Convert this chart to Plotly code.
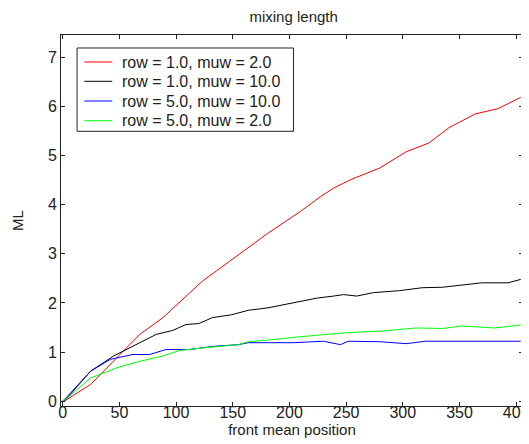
import plotly.graph_objects as go

# ---- data ----
red_x = [0, 1.5, 24.6, 50.7, 68, 88.4, 100, 123, 152, 181, 210, 227.6, 239, 253.7, 279.7, 302.9, 323, 340.6, 363.7, 384, 404]
red_y = [0, 0.0, 0.34, 0.95, 1.36, 1.70, 1.95, 2.44, 2.93, 3.42, 3.87, 4.17, 4.34, 4.51, 4.75, 5.08, 5.26, 5.57, 5.85, 5.96, 6.19]

black_x = [0, 1.5, 24.6, 45, 68, 82.6, 97, 108.7, 120, 132, 149, 163.7, 181, 204, 224.6, 239, 247.8, 259.4, 274, 297, 317, 335, 352, 369.6, 392.8, 404]
black_y = [0, 0.0, 0.61, 0.92, 1.19, 1.36, 1.44, 1.56, 1.58, 1.70, 1.76, 1.85, 1.90, 2.00, 2.10, 2.14, 2.17, 2.14, 2.21, 2.25, 2.31, 2.32, 2.37, 2.41, 2.41, 2.48]

blue_x = [0, 4.3, 24.6, 42, 62, 76.8, 91, 111.6, 134.8, 155, 163.7, 204, 230, 245, 252, 279.7, 302.9, 320, 404]
blue_y = [0, 0.10, 0.61, 0.85, 0.95, 0.95, 1.05, 1.05, 1.12, 1.15, 1.19, 1.19, 1.22, 1.15, 1.22, 1.21, 1.17, 1.22, 1.22]

green_x = [0, 4.3, 24.6, 47.8, 68, 88.4, 102.9, 126, 155, 163.7, 184, 204, 247.8, 282.6, 311.6, 335, 352, 369.6, 381, 404]
green_y = [0, 0.07, 0.47, 0.68, 0.81, 0.92, 1.03, 1.09, 1.15, 1.21, 1.25, 1.30, 1.39, 1.43, 1.49, 1.48, 1.53, 1.51, 1.49, 1.55]

series_names = ["row = 1.0, muw = 2.0", "row = 1.0, muw = 10.0",
                "row = 5.0, muw = 10.0", "row = 5.0, muw = 2.0"]
series_colors = ["#ff0000", "#000000", "#0000ff", "#00ff00"]
x_ticks = [0, 50, 100, 150, 200, 250, 300, 350, 400]
y_ticks = [0, 1, 2, 3, 4, 5, 6, 7]

FONT = "Liberation Sans, Arial, sans-serif"
TXT = "#222"

fig = go.Figure()
for xs, ys, name, color in zip([red_x, black_x, blue_x, green_x],
                               [red_y, black_y, blue_y, green_y],
                               series_names, series_colors):
    fig.add_trace(go.Scatter(x=xs, y=ys, mode="lines", name=name,
                             line=dict(color=color, width=1), showlegend=False))

# MATLAB-style legend box drawn in paper coordinates
leg_x0, leg_x1, leg_top, leg_bot = 0.0348, 0.5032, 0.965, 0.7404
row_y = [0.9272, 0.8752, 0.8221, 0.769]
fig.add_shape(type="rect", xref="paper", yref="paper",
              x0=leg_x0, x1=leg_x1, y0=leg_bot, y1=leg_top,
              fillcolor="white", line=dict(color=TXT, width=1), layer="above")
for name, color, ry in zip(series_names, series_colors, row_y):
    fig.add_shape(type="line", xref="paper", yref="paper",
                  x0=0.0505, x1=0.1109, y0=ry, y1=ry,
                  line=dict(color=color, width=1), layer="above")
    fig.add_annotation(text=name, xref="paper", yref="paper", x=0.1286, y=ry,
                       xanchor="left", yanchor="middle", showarrow=False,
                       font=dict(family=FONT, size=16, color=TXT))

axis_common = dict(
    showgrid=False, zeroline=False,
    showline=True, linecolor=TXT, linewidth=1, mirror="ticks",
    ticks="inside", ticklen=4, tickcolor=TXT,
    tickfont=dict(family=FONT, size=16, color=TXT),
)

fig.update_layout(
    width=529, height=444,
    margin=dict(l=53, r=7, t=27, b=46),
    paper_bgcolor="white", plot_bgcolor="white",
    showlegend=False,
    title=dict(text="mixing length", x=0.54, xanchor="center",
               yref="container", y=0.993, yanchor="top",
               font=dict(family=FONT, size=15, color=TXT)),
    xaxis=dict(range=[-1.5, 406], tickvals=x_ticks, ticklabelstandoff=-8,
               title=dict(text="front mean position", standoff=2,
                          font=dict(family=FONT, size=15, color=TXT)),
               **axis_common),
    yaxis=dict(range=[-0.1, 7.46], tickvals=y_ticks,
               title=dict(text="ML", standoff=20,
                          font=dict(family=FONT, size=15, color=TXT)),
               **axis_common),
)

fig.write_html("out.html")
